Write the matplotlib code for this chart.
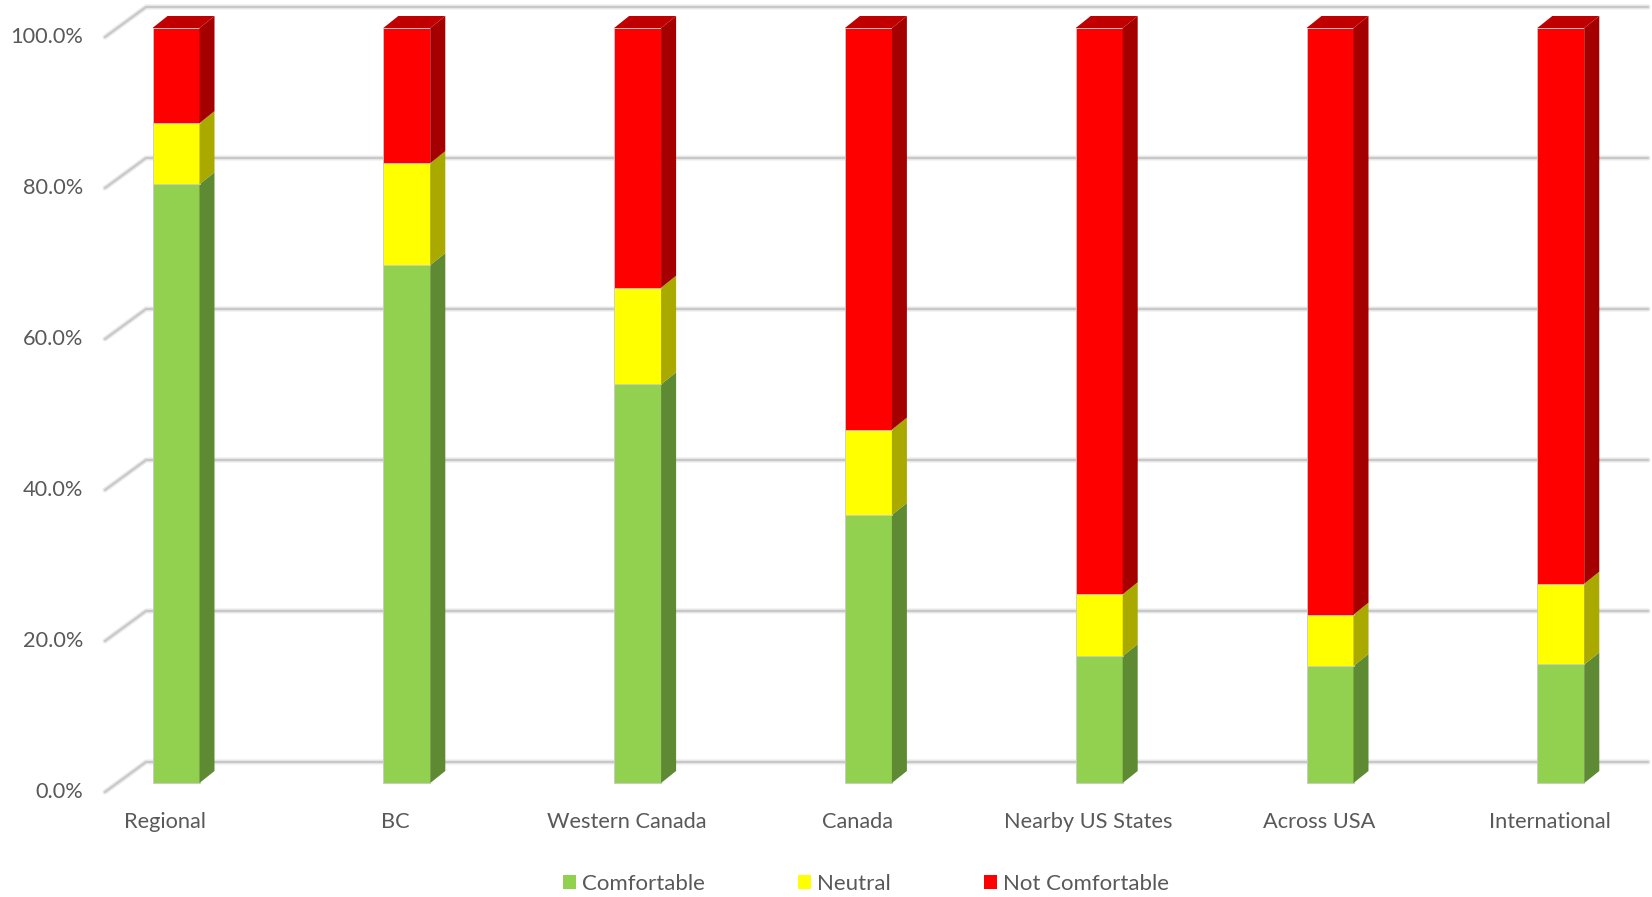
import numpy as np
import matplotlib.pyplot as plt
from matplotlib.patches import Polygon, Patch

plt.rcParams['font.family'] = ['Lato', 'DejaVu Sans']

categories = ['Regional', 'BC', 'Western Canada', 'Canada',
              'Nearby US States', 'Across USA', 'International']
comfortable = [79.3, 68.6, 52.8, 35.5, 16.8, 15.5, 15.7]
neutral = [8.1, 13.5, 12.8, 11.3, 8.2, 6.8, 10.7]
not_comfortable = [100 - c - n for c, n in zip(comfortable, neutral)]
series_names = ['Comfortable', 'Neutral', 'Not Comfortable']
yticks = [0, 20, 40, 60, 80, 100]

front_cols = ['#92d050', '#ffff00', '#ff0000']
side_cols = ['#5e8a34', '#a9a900', '#a50000']
top_col = '#c00000'
text_col = '#595959'

W, H = 1652, 897
fig = plt.figure(figsize=(W / 100, H / 100), dpi=100)
ax = fig.add_axes([0, 0, 1, 1])

# pixel geometry of the plot (front face of the bars)
x0px, xstep = 176, 230.8
y0px, ystep = 783, 7.55
ax.set_xlim(-x0px / xstep, (W - x0px) / xstep)
ax.set_ylim(-(H - y0px) / ystep, y0px / ystep)
ax.axis('off')

# 3d-ish offsets, in data units
bw = 47 / xstep
ddx, ddy = 15 / xstep, 12 / ystep        # bar depth
back_dy = 21 / ystep                      # back wall offset for gridlines
gx0, gx1 = -30 / xstep, 1472 / xstep      # gridline back segment
fx, fdy = -71 / xstep, -9 / ystep         # front end of floor diagonal

# gridlines with the little diagonal on the left
for v in yticks:
    xs = [fx, gx0, gx1]
    ys = [v + fdy, v + back_dy, v + back_dy]
    ax.plot(xs, ys, color='#e8e8e8', lw=3.6, zorder=1, solid_capstyle='round')
    ax.plot(xs, ys, color='#c8c8c8', lw=1.5, zorder=1.1, solid_capstyle='round')
    ax.text(fx - 22 / xstep, v + fdy, f'{v:.1f}%', ha='right', va='center',
            fontsize=15.7, color=text_col)

x = np.arange(len(categories))
stack = [comfortable, neutral, not_comfortable]
bottom = np.zeros(len(categories))
for k, vals in enumerate(stack):
    vals = np.array(vals)
    ax.bar(x, vals, bw, bottom=bottom, color=front_cols[k],
           edgecolor='#c9c9c9', linewidth=0.6, zorder=3)
    for i in range(len(x)):
        r = x[i] + bw / 2
        b, t = bottom[i], bottom[i] + vals[i]
        ax.add_patch(Polygon([(r, b), (r + ddx, b + ddy), (r + ddx, t + ddy), (r, t)],
                             closed=True, facecolor=side_cols[k],
                             edgecolor='none', zorder=3))
        if k == len(stack) - 1:
            l = x[i] - bw / 2
            ax.add_patch(Polygon([(l, t), (r, t), (r + ddx, t + ddy), (l + ddx, t + ddy)],
                                 closed=True, facecolor=top_col,
                                 edgecolor='none', zorder=3))
    bottom = bottom + vals

for i, c in enumerate(categories):
    ax.text(x[i] - 11 / xstep, -39 / ystep, c, ha='center', va='center',
            fontsize=15.7, color=text_col)

handles = [Patch(facecolor=c, edgecolor='none') for c in front_cols]
fig.legend(handles, series_names, loc='center', bbox_to_anchor=(866 / W, 1 - 884 / H),
           ncol=3, frameon=False, fontsize=16, labelcolor=text_col,
           handlelength=0.57, handleheight=0.57, handletextpad=0.28,
           columnspacing=4.2, borderpad=0.2)

fig.savefig('out.png', dpi=100)
